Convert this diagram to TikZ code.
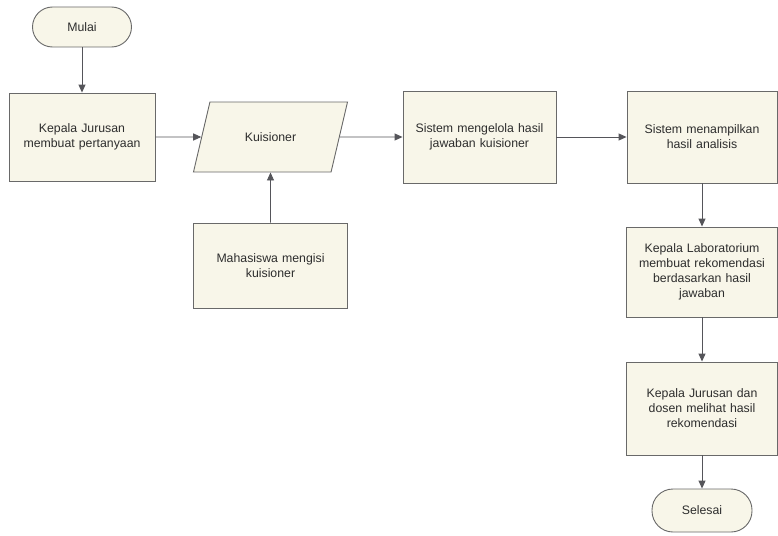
\documentclass[tikz,border=0pt]{standalone}
\usepackage{fontspec}
\setmainfont{Liberation Sans}
\usetikzlibrary{arrows.meta,shapes.geometric}
\definecolor{boxfill}{RGB}{248,246,233}
\definecolor{boxline}{RGB}{105,105,105}
\definecolor{linkcol}{RGB}{85,85,90}
\definecolor{txtcol}{RGB}{45,45,45}
\tikzset{
  every node/.style={font=\fontsize{12.3}{15}\selectfont, text=txtcol, align=center},
  procbox/.style={draw=boxline, fill=boxfill, line width=0.9pt, inner sep=4pt},
  termbox/.style={draw=boxline, fill=boxfill, line width=0.9pt, rounded corners=20pt},
  iobox/.style={trapezium, trapezium left angle=63.4, trapezium right angle=116.6,
    trapezium stretches=true, draw=boxline, fill=boxfill, line width=0.9pt},
  link/.style={draw=linkcol, line width=0.9pt, -{Triangle[length=8pt,width=7pt]}}
}
\begin{document}
\begin{tikzpicture}[x=1pt,y=-1pt]
\useasboundingbox (0,0) rectangle (778,535);
\fill[white] (0,0) rectangle (778,535);

% start / end
\node[termbox, minimum width=99pt, minimum height=40pt] (start) at (82,27) {Mulai};
\node[termbox, minimum width=100pt, minimum height=43pt, rounded corners=21pt] (stop) at (702,510.5) {Selesai};

% processes
\node[procbox, minimum width=146pt, minimum height=88pt, text width=138pt] (kajur) at (82,137) {Kepala Jurusan\\membuat pertanyaan};
\node[iobox, minimum width=155pt, minimum height=70pt] (kuis) at (270.5,137) {Kuisioner};
\node[procbox, minimum width=154pt, minimum height=85pt, text width=146pt] (mhs) at (270.5,265.5) {Mahasiswa mengisi\\kuisioner};
\node[procbox, minimum width=153pt, minimum height=92pt, text width=145pt] (olah) at (479.5,137) {Sistem mengelola hasil\\jawaban kuisioner};
\node[procbox, minimum width=150pt, minimum height=92pt, text width=142pt] (tampil) at (702,137) {Sistem menampilkan\\hasil analisis};
\node[procbox, minimum width=151pt, minimum height=90pt, text width=143pt] (kalab) at (702,272) {Kepala Laboratorium\\membuat rekomendasi\\berdasarkan hasil\\jawaban};
\node[procbox, minimum width=151pt, minimum height=93pt, text width=143pt] (lihat) at (702,408.5) {Kepala Jurusan dan\\dosen melihat hasil\\rekomendasi};

% flow
\draw[link] (start) -- (kajur);
\draw[link] (kajur) -- (kuis.west);
\draw[link] (mhs) -- (kuis.south);
\draw[link] (kuis.east) -- (olah);
\draw[link] (olah) -- (tampil);
\draw[link] (tampil) -- (kalab);
\draw[link] (kalab) -- (lihat);
\draw[link] (lihat) -- (stop);
\end{tikzpicture}
\end{document}
